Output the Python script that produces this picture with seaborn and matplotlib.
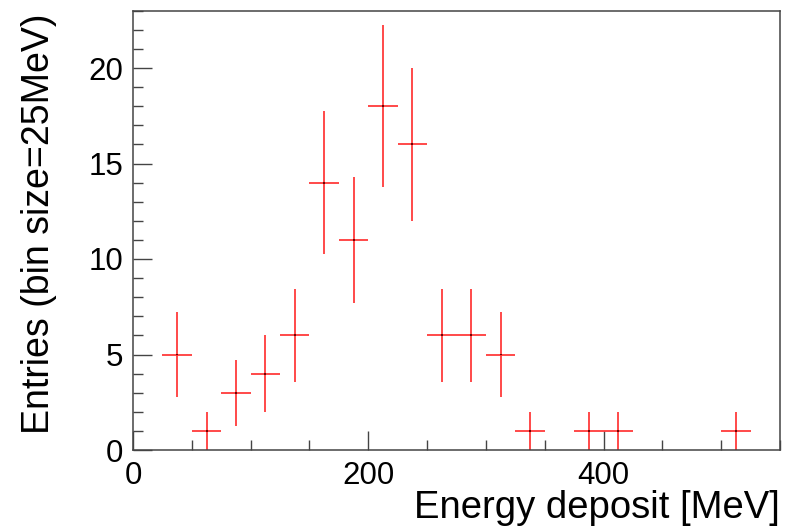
import matplotlib
matplotlib.use("Agg")
import matplotlib.pyplot as plt
import seaborn as sns
import numpy as np
import pandas as pd
from matplotlib.ticker import MultipleLocator

# Data: bin centres (MeV), entries per 25 MeV bin
bin_centers = [37.5, 62.5, 87.5, 112.5, 137.5, 162.5, 187.5, 212.5, 237.5,
               262.5, 287.5, 312.5, 337.5, 387.5, 412.5, 512.5]
entries = [5, 1, 3, 4, 6, 14, 11, 18, 16, 6, 6, 5, 1, 1, 1, 1]
bin_width = 25.0

df = pd.DataFrame({"energy": bin_centers, "entries": entries})
df["err"] = np.sqrt(df["entries"])

sns.set_style("ticks")
plt.rcParams["font.family"] = ["Liberation Sans", "DejaVu Sans"]
plt.rcParams["text.color"] = "black"
plt.rcParams["axes.labelcolor"] = "black"

fig = plt.figure(figsize=(7.98, 5.31), dpi=100)
ax = fig.add_axes([133 / 798, 1 - 450 / 531, (780 - 133) / 798, (450 - 10.7) / 531])

ax.errorbar(df["energy"], df["entries"], xerr=bin_width / 2, yerr=df["err"],
            fmt="none", ecolor="#ff2a2a", elinewidth=1.2, capsize=0)
sns.scatterplot(data=df, x="energy", y="entries", ax=ax, marker="s", s=2,
                color="#700000", edgecolor="none", legend=False, zorder=3)

ax.set_xlim(0, 550)
ax.set_ylim(0, 23)
ax.xaxis.set_major_locator(MultipleLocator(200))
ax.xaxis.set_minor_locator(MultipleLocator(50))
ax.yaxis.set_major_locator(MultipleLocator(5))
ax.yaxis.set_minor_locator(MultipleLocator(1))

spine_color = "#444444"
for s in ax.spines.values():
    s.set_visible(True)
    s.set_color(spine_color)
    s.set_linewidth(1.1)

ax.tick_params(which="both", direction="in", colors=spine_color,
               labelcolor="black", labelsize=22.5, top=False, right=False)
ax.tick_params(which="major", length=14, width=1.0)
ax.tick_params(which="minor", length=7, width=1.0)
ax.tick_params(axis="y", pad=7)
ax.tick_params(axis="x", pad=8)

ax.set_xlabel("Energy deposit [MeV]", fontsize=27.5, loc="right", color="black")
ax.set_ylabel("Entries (bin size=25MeV)", fontsize=27, loc="top", color="black")
ax.xaxis.set_label_coords(1.0, -0.09)
ax.xaxis.label.set_verticalalignment("top")
ax.yaxis.set_label_coords(-0.118, 0.993)

fig.savefig("out.png", dpi=100)
